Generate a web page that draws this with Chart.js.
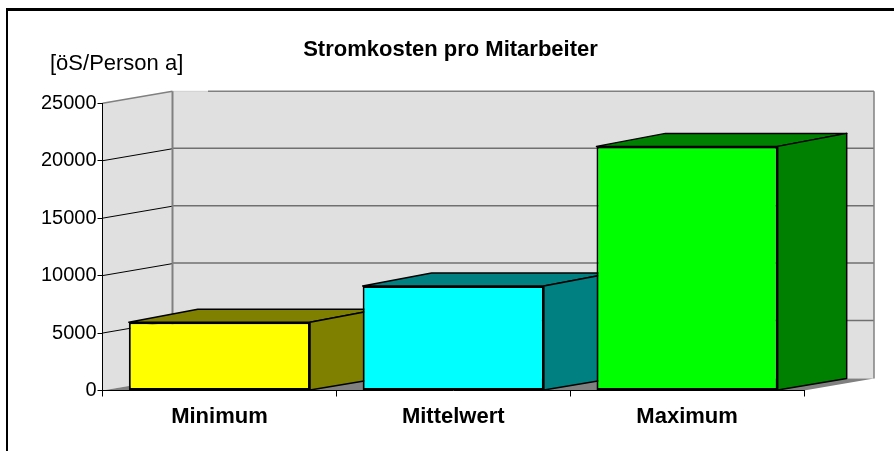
<!DOCTYPE html>
<html><head><meta charset="utf-8">
<script src="https://cdn.jsdelivr.net/npm/chart.js@4"></script>
<style>html,body{margin:0;padding:0;background:#fff}#w{width:894px;height:451px;position:relative}</style>
</head><body><div id="w"><canvas id="c" width="894" height="451"></canvas></div>
<script>
const categories = ['Minimum', 'Mittelwert', 'Maximum'];
const costs = [5950, 9100, 21250];
const tickValues = [0, 5000, 10000, 15000, 20000, 25000];
const frontColors = ['#ffff00', '#00ffff', '#00ff00'];
const sideColors = ['#808000', '#008080', '#008000'];
const titleText = 'Stromkosten pro Mitarbeiter';
const unitText = '[öS/Person a]';
const FONT = '"Liberation Sans", Arial, sans-serif';
const wallDx = 70, wallDy = 12, barDx = 69, barTopDy = 13, barBaseDy = 11.5;

function poly(ctx, pts, fill, stroke, lw) {
  ctx.beginPath();
  pts.forEach((p, i) => i ? ctx.lineTo(p[0], p[1]) : ctx.moveTo(p[0], p[1]));
  ctx.closePath();
  if (fill) { ctx.fillStyle = fill; ctx.fill(); }
  if (stroke) { ctx.strokeStyle = stroke; ctx.lineWidth = lw; ctx.stroke(); }
}
function seg(ctx, x1, y1, x2, y2, color, lw) {
  ctx.beginPath(); ctx.moveTo(x1, y1); ctx.lineTo(x2, y2);
  ctx.strokeStyle = color; ctx.lineWidth = lw; ctx.stroke();
}
const scene = {
  id: 'scene',
  afterLayout(chart) {
    chart.titleBlock.left = 98;
    chart.titleBlock.right = 803;
  },
  beforeDraw(chart) {
    const ctx = chart.ctx, y = chart.scales.y, a = chart.chartArea;
    const L = a.left, R = a.right, B = y.getPixelForValue(0), T = y.getPixelForValue(25000);
    ctx.save();
    // frame (open towards the right and bottom edges)
    ctx.fillStyle = '#000';
    ctx.fillRect(6, 8, 888, 3);
    ctx.fillRect(6, 8, 2, 443);
    // unit text
    ctx.fillStyle = '#000';
    ctx.font = '22px ' + FONT;
    ctx.textBaseline = 'alphabetic';
    ctx.textAlign = 'left';
    ctx.fillText(unitText, 50, 70);
    // walls and floor
    poly(ctx, [[L, T], [L + wallDx, T - wallDy], [L + wallDx, B - wallDy], [L, B]], '#e0e0e0');
    ctx.fillStyle = '#e0e0e0';
    ctx.fillRect(L + wallDx, T - wallDy, R - L, B - T);
    poly(ctx, [[L, B], [L + wallDx, B - wallDy], [R + wallDx, B - wallDy], [R, B]], '#808080');
    // gridlines
    tickValues.forEach(v => {
      const p = y.getPixelForValue(v);
      if (v > 0 && v < 25000) {
        seg(ctx, L, p, L + wallDx, p - wallDy, '#000', 1);
        seg(ctx, L + wallDx, p - wallDy - 0.5, R + wallDx, p - wallDy - 0.5, '#707070', 1.5);
      }
    });
    // wall outline
    seg(ctx, L, T, L + wallDx, T - wallDy, '#808080', 1.5);
    seg(ctx, L + wallDx, T - wallDy, 208, T - wallDy, '#d0d0d0', 1);
    seg(ctx, 208, T - wallDy, R + wallDx, T - wallDy, '#808080', 1.5);
    seg(ctx, L + wallDx, T - wallDy, L + wallDx, B - wallDy, '#808080', 2);
    seg(ctx, R + wallDx, T - wallDy, R + wallDx, B - wallDy, '#808080', 1.5);
    ctx.restore();
  },
  beforeDatasetsDraw(chart) {
    const ctx = chart.ctx;
    ctx.save();
    ctx.lineJoin = 'round';
    chart.getDatasetMeta(0).data.forEach((bar, i) => {
      const l = bar.x - bar.width / 2, r = bar.x + bar.width / 2, t = bar.y, b = bar.base;
      poly(ctx, [[l, t], [l + barDx, t - barTopDy], [r + barDx, t - barTopDy], [r, t]], sideColors[i], '#000', 1.5);
      poly(ctx, [[r, t], [r + barDx, t - barTopDy], [r + barDx, b - barBaseDy], [r, b]], sideColors[i], '#000', 1.5);
    });
    ctx.restore();
  }
};
new Chart(document.getElementById('c'), {
  type: 'bar',
  plugins: [scene],
  data: {
    labels: categories,
    datasets: [{
      data: costs,
      backgroundColor: frontColors,
      borderColor: '#000',
      borderWidth: 2,
      borderSkipped: false,
      barPercentage: 0.775,
      categoryPercentage: 1
    }]
  },
  options: {
    responsive: false,
    animation: false,
    layout: { autoPadding: false, padding: { left: 30, right: 90, top: 0, bottom: 0 } },
    plugins: {
      legend: { display: false },
      tooltip: { enabled: false },
      title: {
        display: true,
        text: titleText,
        color: '#000',
        font: { family: FONT, size: 22, weight: 'bold', lineHeight: 1.2 },
        padding: { top: 37, bottom: 39.9 }
      }
    },
    scales: {
      x: {
        afterFit(s) { s.height = 60.5; },
        grid: { offset: true, drawOnChartArea: false, color: '#000', tickColor: '#000', tickLength: 6 },
        border: { color: '#000' },
        ticks: { color: '#000', padding: 7, maxRotation: 0, font: { family: FONT, size: 22, weight: 'bold' } }
      },
      y: {
        min: 0, max: 25000,
        afterFit(s) { s.width = 72.5; },
        afterBuildTicks(s) { s.ticks = tickValues.map(v => ({ value: v })); },
        grid: { drawOnChartArea: false, color: '#000', tickColor: '#000', tickLength: 5 },
        border: { color: '#000' },
        ticks: { color: '#000', padding: 1, callback: v => String(v), font: { family: FONT, size: 20 } }
      }
    }
  }
});
</script></body></html>
